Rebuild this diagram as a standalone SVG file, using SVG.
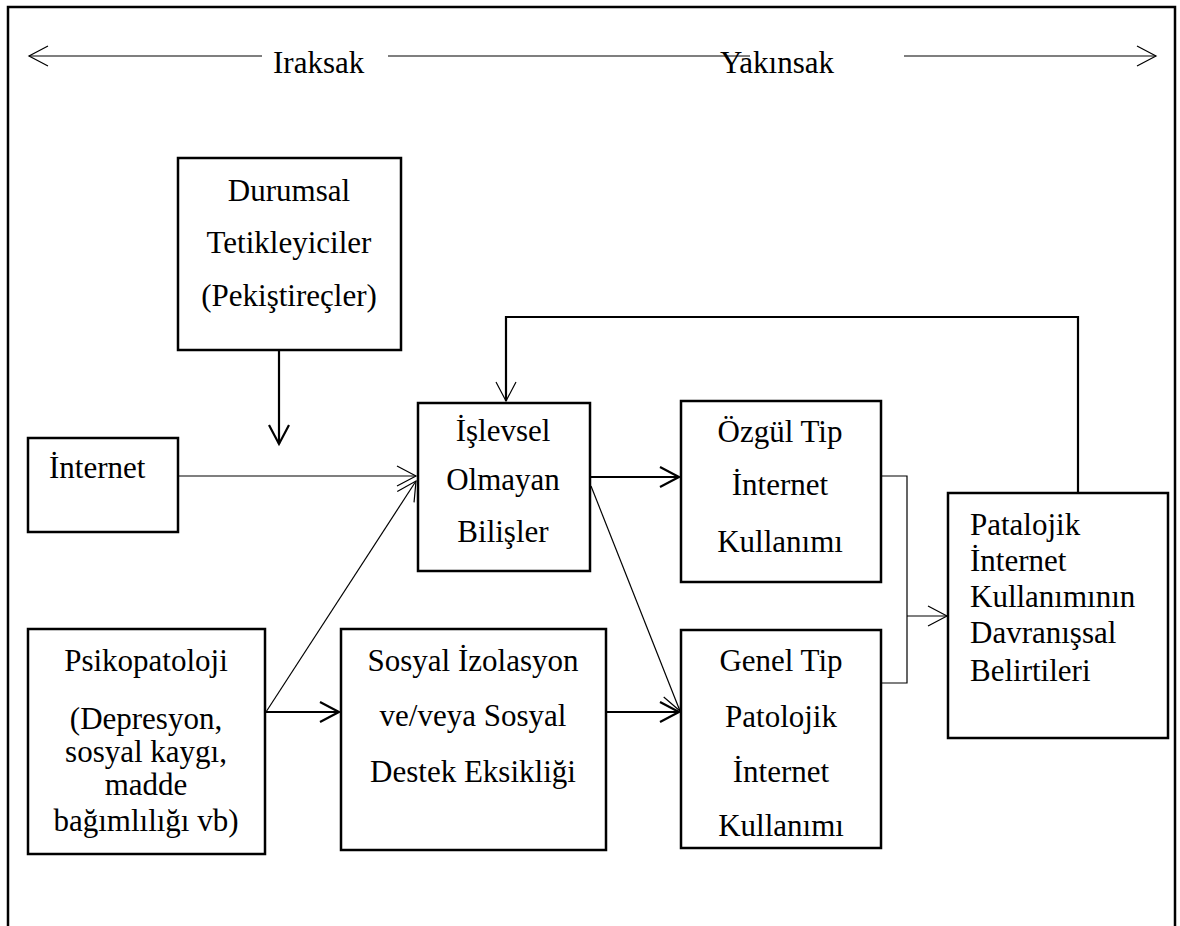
<svg xmlns="http://www.w3.org/2000/svg" width="1180" height="926" viewBox="0 0 1180 926">
<style>
text{font-family:"Liberation Serif","Times New Roman",serif;font-size:31px;fill:#000}
.c{text-anchor:middle}
.box{fill:#fff;stroke:#000;stroke-width:2.5}
.thin{fill:none;stroke:#000;stroke-width:1.2}
.thick{fill:none;stroke:#000;stroke-width:2.2}
</style>
<defs>
<marker id="ah" markerUnits="userSpaceOnUse" markerWidth="24" markerHeight="24" viewBox="-2 -2 24 24" refX="19" refY="10" orient="auto">
<path d="M0,0 L19,10 L0,20" fill="none" stroke="#000" stroke-width="2.2"/>
</marker>
<marker id="at" markerUnits="userSpaceOnUse" markerWidth="24" markerHeight="24" viewBox="-2 -2 24 24" refX="19" refY="10" orient="auto">
<path d="M0,0 L19,10 L0,20" fill="none" stroke="#000" stroke-width="1.2"/>
</marker>
</defs>
<rect x="8" y="7" width="1167" height="960" fill="#fff" stroke="#000" stroke-width="2.5"/>
<g id="connectors">
<line class="thin" x1="262" y1="56" x2="29" y2="56" marker-end="url(#at)"/>
<line class="thin" x1="388" y1="56" x2="750" y2="56"/>
<line class="thin" x1="904" y1="56" x2="1156" y2="56" marker-end="url(#at)"/>
<line class="thick" x1="279" y1="350" x2="279" y2="444" marker-end="url(#ah)"/>
<line class="thin" x1="178" y1="476" x2="416" y2="476" marker-end="url(#at)"/>
<line class="thin" x1="266" y1="712" x2="416" y2="481" marker-end="url(#at)"/>
<line class="thick" x1="590" y1="477" x2="679" y2="477" marker-end="url(#ah)"/>
<line class="thin" x1="591" y1="486" x2="680" y2="711" marker-end="url(#at)"/>
<line class="thick" x1="265" y1="712" x2="339" y2="712" marker-end="url(#ah)"/>
<line class="thick" x1="606" y1="712" x2="679" y2="712" marker-end="url(#ah)"/>
<polyline class="thin" points="881,476 907,476 907,683 881,683"/>
<line class="thin" x1="907" y1="616" x2="947" y2="616" marker-end="url(#at)"/>
<polyline class="thick" points="1078,493 1078,317 506,317 506,401" marker-end="url(#at)"/>
</g>
<g id="label-iraksak"><text x="273" y="73">Iraksak</text></g>
<g id="label-yakinsak"><text x="720" y="73">Yakınsak</text></g>
<g id="durumsal">
<rect class="box" x="178" y="158" width="223" height="192"/>
<text class="c" x="289" y="201">Durumsal</text>
<text class="c" x="289" y="253">Tetikleyiciler</text>
<text class="c" x="289" y="306">(Pekiştireçler)</text>
</g>
<g id="internet">
<rect class="box" x="28" y="438" width="150" height="94"/>
<text x="49" y="478">İnternet</text>
</g>
<g id="islevsel">
<rect class="box" x="418" y="403" width="172" height="168"/>
<text class="c" x="503" y="441">İşlevsel</text>
<text class="c" x="503" y="490">Olmayan</text>
<text class="c" x="503" y="542">Bilişler</text>
</g>
<g id="ozgul">
<rect class="box" x="681" y="401" width="200" height="181"/>
<text class="c" x="780" y="442">Özgül Tip</text>
<text class="c" x="780" y="495">İnternet</text>
<text class="c" x="780" y="552">Kullanımı</text>
</g>
<g id="patalojik">
<rect class="box" x="948" y="493" width="220" height="245"/>
<text x="970" y="535">Patalojik</text>
<text x="970" y="571">İnternet</text>
<text x="970" y="607">Kullanımının</text>
<text x="970" y="643">Davranışsal</text>
<text x="970" y="681">Belirtileri</text>
</g>
<g id="psikopatoloji">
<rect class="box" x="28" y="629" width="237" height="225"/>
<text class="c" x="146" y="671">Psikopatoloji</text>
<text class="c" x="146" y="729">(Depresyon,</text>
<text class="c" x="146" y="762">sosyal kaygı,</text>
<text class="c" x="146" y="795">madde</text>
<text class="c" x="146" y="831">bağımlılığı vb)</text>
</g>
<g id="sosyal">
<rect class="box" x="341" y="629" width="265" height="221"/>
<text class="c" x="473" y="671">Sosyal İzolasyon</text>
<text class="c" x="473" y="726">ve/veya Sosyal</text>
<text class="c" x="473" y="782">Destek Eksikliği</text>
</g>
<g id="genel">
<rect class="box" x="681" y="630" width="200" height="218"/>
<text class="c" x="781" y="671">Genel Tip</text>
<text class="c" x="781" y="727">Patolojik</text>
<text class="c" x="781" y="782">İnternet</text>
<text class="c" x="781" y="836">Kullanımı</text>
</g>
</svg>
